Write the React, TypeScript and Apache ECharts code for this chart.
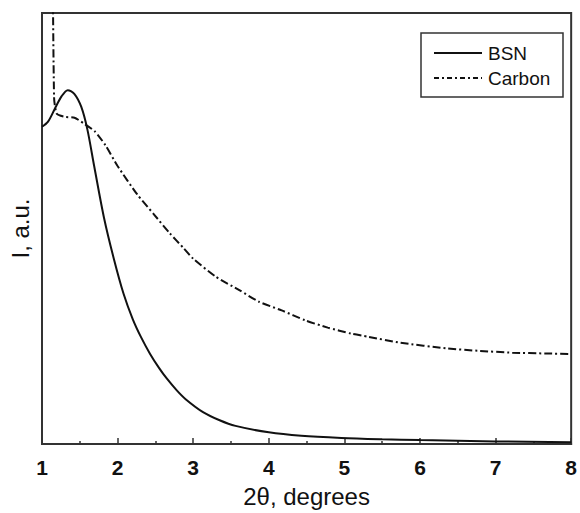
import React, { useEffect, useRef } from "react";
import * as echarts from "echarts";

const xTicks = [1, 2, 3, 4, 5, 6, 7, 8];

const bsnX = [1.0, 1.08, 1.17, 1.26, 1.34, 1.43, 1.52, 1.6, 1.69, 1.82, 1.95, 2.08, 2.2, 2.31, 2.43, 2.55, 2.65, 2.78, 2.9, 3.13, 3.35, 3.56, 4.0, 4.43, 4.96, 5.5, 6.0, 7.0, 8.0];
const bsnY = [73.6, 74.8, 77.8, 80.7, 82.1, 81.2, 78.2, 73.0, 64.5, 52.5, 43.0, 34.8, 29.0, 24.8, 20.9, 17.6, 15.2, 12.5, 10.4, 7.4, 5.5, 4.2, 2.7, 1.9, 1.4, 1.1, 0.9, 0.6, 0.4];

const carbonX = [1.135, 1.16, 1.196, 1.3, 1.43, 1.56, 1.7, 1.84, 2.0, 2.26, 2.48, 2.69, 2.87, 3.0, 3.3, 3.61, 3.87, 4.17, 4.48, 4.78, 5.09, 5.31, 5.74, 6.35, 6.79, 7.22, 7.66, 8.0];
const carbonY = [125, 80.3, 76.6, 75.9, 75.7, 74.3, 72.5, 69.3, 64.5, 57.9, 53.3, 48.9, 45.5, 43.0, 38.8, 35.7, 33.0, 31.0, 28.7, 27.0, 25.6, 24.9, 23.5, 22.2, 21.6, 21.2, 21.0, 20.9];

const seriesNames = ["BSN", "Carbon"];

const FONT = "'Liberation Sans', Arial, sans-serif";
const INK = "#111";

export default function App() {
  const ref = useRef<HTMLDivElement>(null);
  useEffect(() => {
    if (!ref.current) return;
    const chart = echarts.init(ref.current, undefined, { renderer: "svg" });
    const zip = (xs: number[], ys: number[]) => xs.map((x, i) => [x, ys[i]]);
    chart.setOption({
      animation: false,
      backgroundColor: "#fff",
      grid: {
        left: 37,
        right: 7,
        top: 13,
        bottom: 64,
        show: true,
        borderColor: "#333",
        borderWidth: 2,
      },
      xAxis: {
        type: "value",
        min: 1,
        max: 8,
        interval: 1,
        name: "2θ, degrees",
        nameLocation: "middle",
        nameGap: 40,
        nameTextStyle: { fontFamily: FONT, fontSize: 24, color: INK },
        axisLine: { show: true, lineStyle: { color: "#333", width: 2 } },
        axisTick: { show: true, inside: true, length: 6, lineStyle: { color: "#333", width: 1.5 } },
        minorTick: { show: true, splitNumber: 2, length: 3, lineStyle: { color: "#333", width: 1.5 } },
        splitLine: { show: false },
        axisLabel: {
          margin: 13,
          fontFamily: FONT,
          fontSize: 21,
          fontWeight: "bold",
          color: INK,
          formatter: (v: number) => (xTicks.includes(v) ? String(v) : ""),
        },
      },
      yAxis: {
        type: "value",
        min: 0,
        max: 100,
        name: "I, a.u.",
        nameLocation: "middle",
        nameGap: 10,
        nameTextStyle: { fontFamily: FONT, fontSize: 24, color: INK },
        axisLine: { show: true, lineStyle: { color: "#333", width: 2 } },
        axisTick: { show: false },
        axisLabel: { show: false },
        splitLine: { show: false },
      },
      series: [
        {
          name: seriesNames[0],
          type: "line",
          data: zip(bsnX, bsnY),
          showSymbol: false,
          smooth: 0.3,
          lineStyle: { color: INK, width: 2 },
        },
        {
          name: seriesNames[1],
          type: "line",
          data: zip(carbonX, carbonY),
          showSymbol: false,
          smooth: 0.2,
          lineStyle: { color: INK, width: 2, type: [8, 3, 2, 3] },
        },
      ],
      graphic: [
        {
          type: "rect",
          shape: { x: 421, y: 33, width: 142, height: 64 },
          style: { fill: "#fff", stroke: "#333", lineWidth: 1.5 },
        },
        {
          type: "line",
          shape: { x1: 434, y1: 53, x2: 482, y2: 53 },
          style: { stroke: INK, lineWidth: 2 },
        },
        {
          type: "line",
          shape: { x1: 434, y1: 78, x2: 482, y2: 78 },
          style: { stroke: INK, lineWidth: 2, lineDash: [5, 3, 2, 3] },
        },
        {
          type: "text",
          x: 488,
          y: 53,
          style: { text: seriesNames[0], font: `19px ${FONT}`, fill: INK, verticalAlign: "middle" },
        },
        {
          type: "text",
          x: 488,
          y: 78,
          style: { text: seriesNames[1], font: `19px ${FONT}`, fill: INK, verticalAlign: "middle" },
        },
      ],
    });
    return () => chart.dispose();
  }, []);
  return <div ref={ref} style={{ width: 580, height: 513, position: "absolute", left: 0, top: 0 }} />;
}
